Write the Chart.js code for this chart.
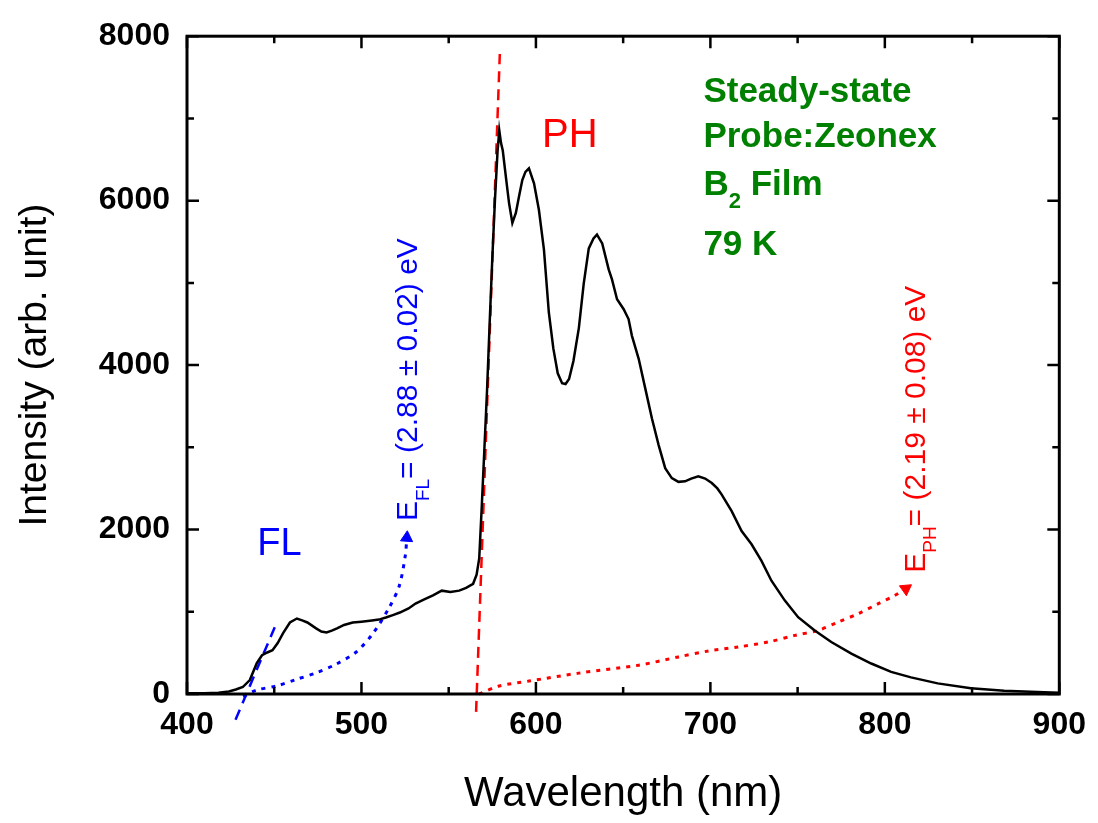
<!DOCTYPE html>
<html>
<head>
<meta charset="utf-8">
<script src="https://cdn.jsdelivr.net/npm/chart.js@4.4.1/dist/chart.umd.min.js"></script>
<style>
  html, body { margin: 0; padding: 0; background: #fff; }
  #wrap { width: 1098px; height: 823px; }
</style>
</head>
<body>
<div id="wrap"><canvas id="chart" width="1098" height="823"></canvas></div>
<script>
// spectrum (nm, arb. unit)
const wavelength = [
  400, 410, 418, 424, 428, 432, 436, 440, 443, 446, 449, 452, 455, 459, 463,
  466, 469, 474, 477, 480, 483, 486, 490, 495, 500, 506, 510, 514, 518, 522,
  527, 531, 536, 541, 546, 551, 556, 560, 564, 566, 567.5, 569, 570.5, 572,
  573.5, 575, 576.5, 578, 579, 580, 581, 583, 584.6, 586.5, 588.5, 590.3,
  592.2, 594, 596, 598.9, 601.7, 604.6, 607.4, 610, 612.5, 615, 617, 619,
  621.5, 624.6, 627.4, 630.3, 633, 635, 638, 641.7, 643.6, 646.5, 650.3,
  653.1, 655, 658.9, 662.7, 666.5, 670.3, 674.1, 677.9, 681.7, 685.5, 689,
  693.1, 697, 700.8, 704, 706.5, 712.2, 717.9, 723.6, 729.3, 735, 742.7,
  750.3, 759.8, 769.3, 780.8, 792.2, 803.6, 815, 830.3, 849.3, 868.4, 891.3, 900
];
const intensity = [
  10, 8, 15, 30, 55, 85, 170, 375, 471, 505, 532, 620, 737, 870, 918,
  895, 870, 798, 760, 749, 770, 798, 840, 870, 880, 894, 905, 930, 960, 991,
  1040, 1100, 1150, 1200, 1257, 1240, 1257, 1290, 1340, 1450, 1650, 2300, 3000, 3700,
  4520, 5300, 6000, 6600, 6855, 6700, 6610, 6250, 5970, 5728, 5850, 6050,
  6250, 6350, 6393, 6211, 5889, 5405, 4640, 4200, 3900, 3780, 3770, 3830,
  4050, 4450, 4990, 5420, 5540, 5587, 5480, 5164, 5043, 4800, 4680,
  4560, 4359, 4076, 3714, 3351, 3030, 2747, 2626, 2580, 2586, 2620,
  2647, 2620, 2566, 2500, 2425, 2224, 1982, 1821, 1619, 1378, 1136,
  934, 773, 632, 492, 371, 269, 202, 129, 69, 40, 20, 15
];

// onset fit lines
const flFitX = [427.8, 450.3];
const flFitY = [-314, 813];
const phFitX = [565.7, 579.3];
const phFitY = [-217, 7783];

// dotted arrows from the onsets to the labels
const flArrowX = [432.2, 439.8, 451.3, 462.7, 474.1, 485.5, 497, 506.5, 516, 521.7, 525.1, 526.0];
const flArrowY = [-33, 48, 97, 178, 257, 363, 511, 734, 1055, 1317, 1680, 1900];
const phArrowX = [567.4, 578.9, 596, 624.6, 658.9, 681.7, 698.9, 716, 733.1, 748.4, 761.7, 773.1, 784.6, 796, 805.5, 812];
const phArrowY = [0, 97, 157, 254, 350, 451, 523, 572, 632, 713, 773, 874, 975, 1096, 1196, 1280];

const xTicks = { min: 400, max: 900, major: 100, minor: 50 };
const yTicks = { min: 0, max: 8000, major: 2000, minor: 1000 };

const FONT = "'Liberation Sans', Arial, sans-serif";
const GREEN = '#008000';

const toXY = (xs, ys) => xs.map((v, i) => ({ x: v, y: ys[i] }));
const lastOnly = (r) => (c) => c.dataIndex === c.dataset.data.length - 1 ? r : 0;

function subText(ctx, x, y, main, sub, rest, size, weight) {
  const w0 = weight || 'normal';
  ctx.font = `${w0} ${size}px ${FONT}`;
  ctx.fillText(main, x, y);
  let w = ctx.measureText(main).width;
  ctx.font = `${w0} ${Math.round(size * 0.62)}px ${FONT}`;
  ctx.fillText(sub, x + w, y + size * 0.38);
  w += ctx.measureText(sub).width;
  ctx.font = `${w0} ${size}px ${FONT}`;
  ctx.fillText(rest, x + w, y);
}

const frameAndText = {
  id: 'frameAndText',
  afterDraw(chart) {
    const { ctx, chartArea: a, scales: { x, y } } = chart;
    ctx.save();
    ctx.strokeStyle = '#000';
    ctx.lineWidth = 3;
    ctx.strokeRect(a.left, a.top, a.right - a.left, a.bottom - a.top);

    ctx.lineWidth = 2.5;
    ctx.beginPath();
    for (let v = xTicks.min; v <= xTicks.max; v += xTicks.minor) {
      const px = x.getPixelForValue(v);
      const len = v % xTicks.major === 0 ? 12 : 7;
      ctx.moveTo(px, a.bottom); ctx.lineTo(px, a.bottom - len);
      ctx.moveTo(px, a.top); ctx.lineTo(px, a.top + len);
    }
    for (let v = yTicks.min; v <= yTicks.max; v += yTicks.minor) {
      const py = y.getPixelForValue(v);
      const len = v % yTicks.major === 0 ? 12 : 7;
      ctx.moveTo(a.left, py); ctx.lineTo(a.left + len, py);
      ctx.moveTo(a.right, py); ctx.lineTo(a.right - len, py);
    }
    ctx.stroke();

    ctx.textAlign = 'center';
    ctx.textBaseline = 'middle';
    ctx.fillStyle = '#0000ff';
    ctx.font = `38px ${FONT}`;
    ctx.fillText('FL', x.getPixelForValue(453), y.getPixelForValue(1813));
    ctx.fillStyle = '#ff0000';
    ctx.font = `40px ${FONT}`;
    ctx.fillText('PH', x.getPixelForValue(619.4), y.getPixelForValue(6792));

    ctx.textAlign = 'left';
    ctx.textBaseline = 'alphabetic';
    ctx.fillStyle = GREEN;
    const gx = x.getPixelForValue(696);
    ctx.font = `bold 35px ${FONT}`;
    ctx.fillText('Steady-state', gx, y.getPixelForValue(7200));
    ctx.fillText('Probe:Zeonex', gx, y.getPixelForValue(6655));
    subText(ctx, gx, y.getPixelForValue(6070), 'B', '2', ' Film', 35, 'bold');
    ctx.font = `bold 35px ${FONT}`;
    ctx.fillText('79 K', gx, y.getPixelForValue(5345));

    const rotated = (vx, vy, color, sub, rest) => {
      ctx.save();
      ctx.translate(x.getPixelForValue(vx), y.getPixelForValue(vy));
      ctx.rotate(-Math.PI / 2);
      ctx.fillStyle = color;
      subText(ctx, 0, 0, 'E', sub, rest, 30);
      ctx.restore();
    };
    rotated(532, 2103, '#0000ff', 'FL', '= (2.88 \u00b1 0.02) eV');
    rotated(822.9, 1474, '#ff0000', 'PH', '= (2.19 \u00b1 0.08) eV');
    ctx.restore();
  }
};

new Chart(document.getElementById('chart'), {
  type: 'line',
  data: {
    datasets: [
      {
        data: toXY(wavelength, intensity),
        borderColor: '#000', borderWidth: 2.5, pointRadius: 0, tension: 0
      },
      {
        data: toXY(flFitX, flFitY), clip: false,
        borderColor: '#0000ff', borderWidth: 2.5, borderDash: [11, 7], pointRadius: 0
      },
      {
        data: toXY(phFitX, phFitY), clip: false,
        borderColor: '#ff0000', borderWidth: 2.5, borderDash: [11, 7], pointRadius: 0
      },
      {
        data: toXY(flArrowX, flArrowY), clip: false,
        borderColor: '#0000ff', borderWidth: 3, borderDash: [4, 6], tension: 0.3,
        pointStyle: 'triangle', pointRadius: lastOnly(7), pointRotation: 4,
        pointBackgroundColor: '#0000ff', pointBorderColor: '#0000ff', pointBorderWidth: 1
      },
      {
        data: toXY(phArrowX, phArrowY), clip: false,
        borderColor: '#ff0000', borderWidth: 3, borderDash: [4, 6], tension: 0.3,
        pointStyle: 'triangle', pointRadius: lastOnly(7), pointRotation: 55,
        pointBackgroundColor: '#ff0000', pointBorderColor: '#ff0000', pointBorderWidth: 1
      }
    ]
  },
  options: {
    responsive: false,
    animation: false,
    layout: { padding: { top: 32, right: 36, left: 0, bottom: 0 } },
    plugins: { legend: { display: false }, tooltip: { enabled: false } },
    scales: {
      x: {
        type: 'linear', min: xTicks.min, max: xTicks.max,
        grid: { display: false, drawTicks: false },
        border: { display: false },
        ticks: {
          stepSize: xTicks.major, autoSkip: false, maxRotation: 0, padding: 12,
          color: '#000', font: { family: FONT, size: 32, weight: 'bold' },
          callback: (v) => String(v)
        },
        title: {
          display: true, text: 'Wavelength (nm)', color: '#000',
          font: { family: FONT, size: 42 }, padding: { top: 4, bottom: 3 }
        },
        afterFit: (s) => { s.height = 129; }
      },
      y: {
        min: yTicks.min, max: yTicks.max,
        grid: { display: false, drawTicks: false },
        border: { display: false },
        ticks: {
          stepSize: yTicks.major, padding: 17,
          color: '#000', font: { family: FONT, size: 32, weight: 'bold' },
          callback: (v) => String(v)
        },
        title: {
          display: true, text: 'Intensity (arb. unit)', color: '#000',
          font: { family: FONT, size: 39 }, padding: { top: 12, bottom: 4 }
        },
        afterFit: (s) => { s.width = 187; }
      }
    }
  },
  plugins: [frameAndText]
});
</script>
</body>
</html>
